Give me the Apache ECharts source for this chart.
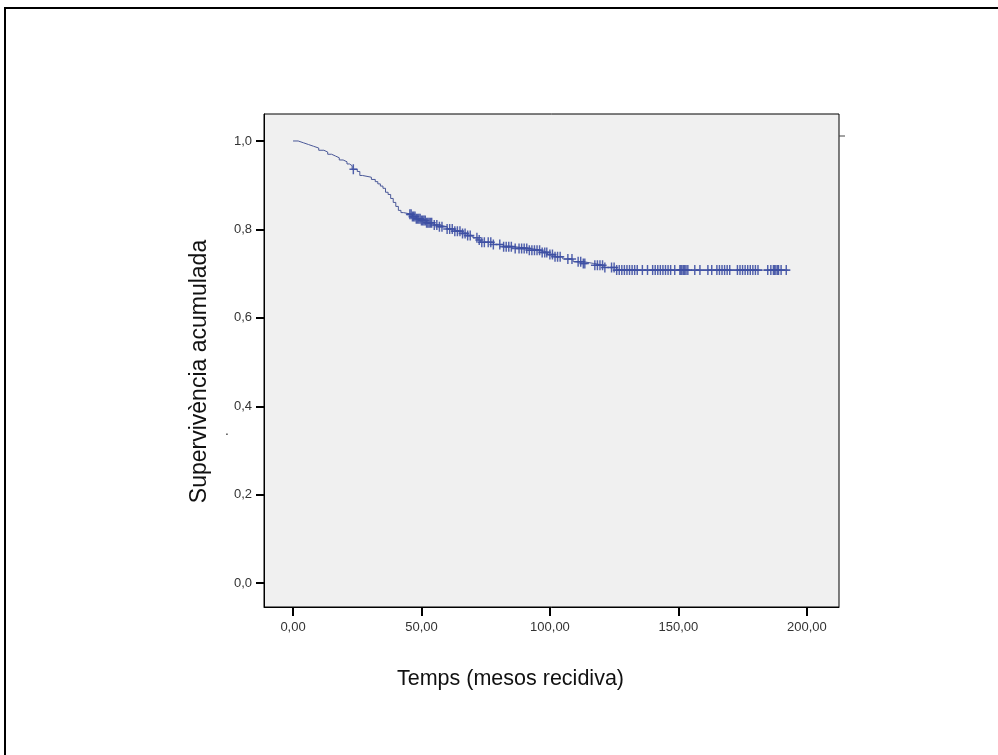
<!DOCTYPE html>
<html><head><meta charset="utf-8">
<script src="https://cdn.jsdelivr.net/npm/echarts@6/dist/echarts.min.js"></script>
<style>html,body{margin:0;padding:0;background:#fff}#c{width:998px;height:755px}</style>
</head><body><div id="c"></div>
<script>
// Kaplan-Meier step points: event times and survival after each event
var eventTimes = [0,2,4,6,8,10,12,13.5,15,16.5,18,19.5,21,22,23,25,26,27,30.5,32,33,34,35,36,37,38,39,40,41,42,43,46.5,48,50,52,55,57,60,63,66,68,70,72,73,78,82,86,92,97,99,102,105,109,113,117,121,126,192.5];
var survival   = [1.0,0.996,0.992,0.988,0.984,0.979,0.975,0.970,0.966,0.962,0.957,0.953,0.948,0.944,0.936,0.931,0.922,0.918,0.913,0.908,0.903,0.898,0.893,0.884,0.879,0.870,0.861,0.852,0.843,0.838,0.834,0.829,0.824,0.820,0.815,0.810,0.806,0.801,0.796,0.791,0.786,0.781,0.776,0.771,0.766,0.761,0.757,0.753,0.748,0.743,0.738,0.733,0.727,0.723,0.719,0.714,0.708,0.708];
// censored observation times
var censorTimes = [23.5,45.5,46,46.5,47,47.5,48,48.5,49,49.5,50,50.5,51,51.5,52,52.5,53,53.5,54,55,56,57,58,60,61,62,63,64,65,66,67,68,69,71.6,72.5,73.5,74.5,76,77,78,80.5,82,83,84,85,86.5,88,89,90,91,92,93,94,95,96,97,98,98.8,100,101,102,103,104,107,108.6,111,112,113,113.6,117.5,118.5,119.5,120.5,121.4,124,125,126,127,128,129,130,131,132,133,134,136,138,140,141,142,143,144,145,146,147,148.6,150.6,151,151.4,152,152.5,153,153.7,156.4,158.4,161.5,163,165,166,167,168,169,170,173,174,175,176,177,178,179,180,181,184.8,186,187,187.5,188,188.7,189,190,192];
var xTicks = [0,50,100,150,200];
var yTicks = [0,0.2,0.4,0.6,0.8,1.0];

function survAt(t){var s=1;for(var i=0;i<eventTimes.length;i++){if(eventTimes[i]<=t)s=survival[i];}return s;}
var lineData = eventTimes.map(function(t,i){return [t,survival[i]];});
var censorData = censorTimes.map(function(t){return [t,survAt(t)];});

var chart = echarts.init(document.getElementById('c'));
var blue = '#3d4fa3';
chart.setOption({
  animation:false,
  backgroundColor:'#ffffff',
  grid:{left:264,top:114,width:575,height:493,show:true,backgroundColor:'#f0f0f0',borderColor:'#000',borderWidth:1},
  xAxis:{type:'value',min:-11.3,max:212.5,
    name:'Temps (mesos recidiva)',nameLocation:'middle',nameGap:61,
    nameTextStyle:{fontFamily:'Liberation Sans, Arial',fontSize:21.5,color:'#111',padding:[0,82,0,0]},
    axisLine:{show:true,onZero:false,lineStyle:{color:'#000',width:1}},
    axisTick:{show:true,length:9,customValues:xTicks,lineStyle:{color:'#000',width:2}},
    axisLabel:{customValues:xTicks,margin:14,fontFamily:'Liberation Sans, Arial',fontSize:13,color:'#333',
      formatter:function(v){return v.toFixed(2).replace('.',',');}},
    splitLine:{show:false}},
  yAxis:{type:'value',min:-0.054,max:1.061,
    name:'Supervivència acumulada',nameLocation:'middle',nameGap:53,
    nameTextStyle:{fontFamily:'Liberation Sans, Arial',fontSize:23,color:'#111',padding:[0,22,0,0]},
    axisLine:{show:true,onZero:false,lineStyle:{color:'#000',width:1}},
    axisTick:{show:true,length:8,customValues:yTicks,lineStyle:{color:'#000',width:2}},
    axisLabel:{customValues:yTicks,margin:12,fontFamily:'Liberation Sans, Arial',fontSize:13,color:'#333',
      formatter:function(v){return v.toFixed(1).replace('.',',');}},
    splitLine:{show:false}},
  series:[
    {type:'line',step:'end',data:lineData,showSymbol:false,symbol:'none',
      lineStyle:{color:'#4a5898',width:1},z:2},
    {type:'scatter',data:censorData,symbol:'path://M4,0h1.8v4.2h4.2v1.6h-4.2v4.2h-1.8v-4.2h-4v-1.6h4z',
      symbolSize:[8,10],itemStyle:{color:blue,opacity:0.9},z:3}
  ],
  graphic:[
    {type:'line',shape:{x1:4,y1:8,x2:998,y2:8},style:{stroke:'#000',lineWidth:2}},
    {type:'line',shape:{x1:5,y1:7,x2:5,y2:755},style:{stroke:'#000',lineWidth:2}},
    {type:'line',shape:{x1:839,y1:136,x2:845,y2:136},style:{stroke:'#444',lineWidth:1}},
    {type:'text',left:225,top:424,style:{text:'.',fill:'#333',font:'14px Liberation Sans, Arial'}}
  ]
});
</script></body></html>
